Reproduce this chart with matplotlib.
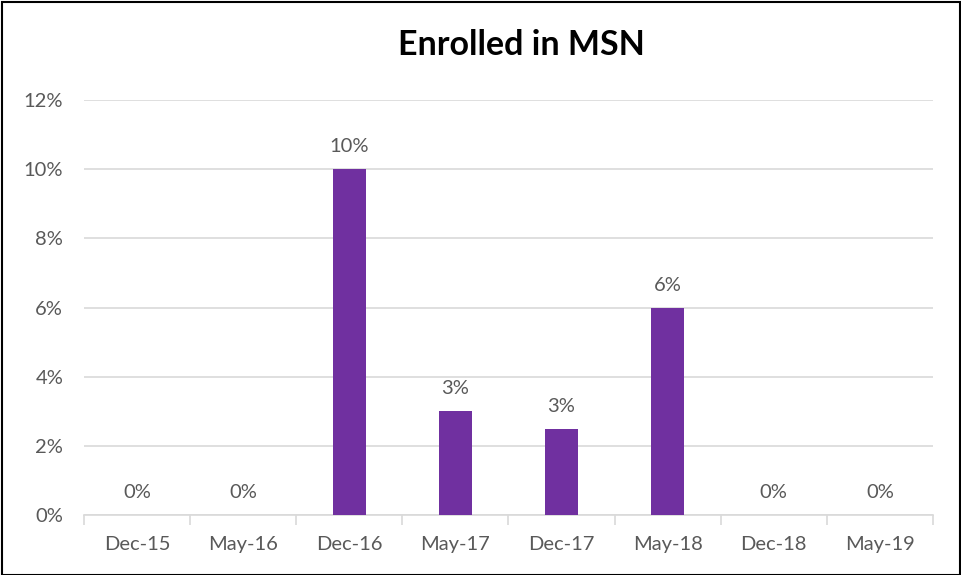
import matplotlib
matplotlib.use("Agg")
import matplotlib.pyplot as plt
from matplotlib.patches import Rectangle
from matplotlib.ticker import FuncFormatter, MultipleLocator

# chart data
periods = ["Dec-15", "May-16", "Dec-16", "May-17", "Dec-17", "May-18", "Dec-18", "May-19"]
enrolled = [0.0, 0.0, 10.0, 3.0, 2.5, 6.0, 0.0, 0.0]
bar_labels = ["0%", "0%", "10%", "3%", "3%", "6%", "0%", "0%"]

plt.rcParams["font.family"] = ["Lato", "DejaVu Sans"]
text_grey = "#595959"

fig = plt.figure(figsize=(9.62, 5.75), dpi=100)
ax = fig.add_axes([84 / 962, 1 - 515 / 575, (933 - 84) / 962, (515 - 100) / 575])

x = list(range(len(periods)))
ax.bar(x, enrolled, width=0.31, color="#7030A0", zorder=3)

for xi, v, lab in zip(x, enrolled, bar_labels):
    ax.annotate(lab, (xi, v), xytext=(0, 10), textcoords="offset points",
                ha="center", va="bottom", fontsize=14.5, color=text_grey)

ax.set_xlim(-0.5, len(periods) - 0.5)
ax.set_ylim(0, 12)
ax.yaxis.set_major_locator(MultipleLocator(2))
ax.yaxis.set_major_formatter(FuncFormatter(lambda v, _: f"{v:.0f}%"))
ax.grid(axis="y", color="#d9d9d9", linewidth=1.2, zorder=0)

ax.set_xticks(x)
ax.set_xticklabels(periods)
ax.set_xticks([i - 0.5 for i in range(len(periods) + 1)], minor=True)
ax.tick_params(axis="x", which="major", length=0, pad=15, labelsize=14.5, labelcolor=text_grey)
ax.tick_params(axis="x", which="minor", length=7, color="#d9d9d9", width=1.2)
ax.tick_params(axis="y", length=0, pad=15, labelsize=14.5, labelcolor=text_grey)

for side in ["top", "right", "left"]:
    ax.spines[side].set_visible(False)
ax.spines["bottom"].set_color("#d9d9d9")
ax.spines["bottom"].set_linewidth(1.2)

fig.text(0.542, 1 - 45 / 575, "Enrolled in MSN", ha="center", va="center",
         fontsize=24.5, fontweight="bold", color="black")

fig.patches.append(Rectangle((0.002, 0.0), 0.996, 0.997, transform=fig.transFigure,
                             fill=False, edgecolor="black", linewidth=1.5))

fig.savefig("out.png", dpi=100)
